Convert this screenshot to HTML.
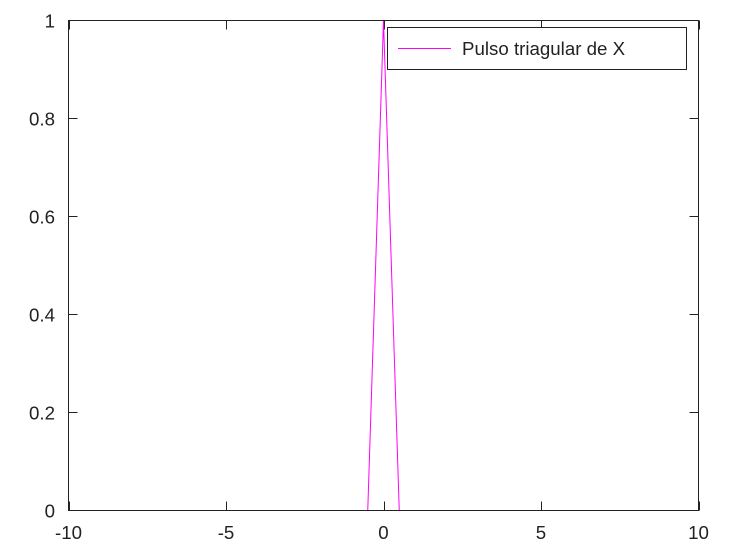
<!DOCTYPE html>
<html><head><meta charset="utf-8"><style>
html,body{margin:0;padding:0;background:#fff;}
svg{display:block;font-family:"Liberation Sans",sans-serif;}
</style></head><body>
<svg id="chart" width="735" height="552" xmlns="http://www.w3.org/2000/svg">
<rect x="0" y="0" width="735" height="552" fill="#fff"/>
<g id="ticks"></g>
<g id="labels" font-size="18.7" fill="#222"></g>
<path id="series" fill="none" stroke="#ff00ff" stroke-width="1"/>
<rect x="68.5" y="20.5" width="630" height="490" fill="none" stroke="#222" stroke-width="1"/>
<g>
<rect x="387.5" y="27.5" width="299" height="42" fill="#fff" stroke="#222" stroke-width="1"/>
<line x1="398" y1="48.5" x2="451" y2="48.5" stroke="#ff00ff" stroke-width="1"/>
<text x="462" y="55" font-size="18.7" fill="#222">Pulso triagular de X</text>
</g>
</svg>
<script>
const seriesX = [-10, -0.5, 0, 0.5, 10];
const seriesY = [0, 0, 1, 0, 0];
const xTicks = [-10, -5, 0, 5, 10];
const xTickLabels = ["-10", "-5", "0", "5", "10"];
const yTicks = [0, 0.2, 0.4, 0.6, 0.8, 1];
const yTickLabels = ["0", "0.2", "0.4", "0.6", "0.8", "1"];
const L=68.5,R=698.5,T=20.5,B=510.5;
const xs=v=>L+(v+10)/20*(R-L);
const ys=v=>B-v*(B-T);
const NS="http://www.w3.org/2000/svg";
const tg=document.getElementById('ticks'), lg=document.getElementById('labels');
function ln(x1,y1,x2,y2){const e=document.createElementNS(NS,'line');e.setAttribute('x1',x1);e.setAttribute('y1',y1);e.setAttribute('x2',x2);e.setAttribute('y2',y2);e.setAttribute('stroke','#222');


tg.appendChild(e);}
function tx(x,y,s,a){const e=document.createElementNS(NS,'text');e.setAttribute('x',x);e.setAttribute('y',y);e.setAttribute('text-anchor',a);e.textContent=s;


lg.appendChild(e);}
xTicks.forEach((v,i)=>{const x=Math.round(xs(v))+0.5;ln(x,B,x,B-9);ln(x,T,x,T+9);tx(xs(v),539,xTickLabels[i],'middle');});
yTicks.forEach((v,i)=>{const y=Math.round(ys(v)-0.5)+0.5;ln(L,y,L+9,y);ln(R,y,R-9,y);tx(55,ys(v)+7,yTickLabels[i],'end');});
let d='';seriesX.forEach((v,i)=>{d+=(i?'L':'M')+xs(v).toFixed(2)+' '+ys(seriesY[i]).toFixed(2);});
document.getElementById('series').setAttribute('d',d);
</script>
</body></html>
